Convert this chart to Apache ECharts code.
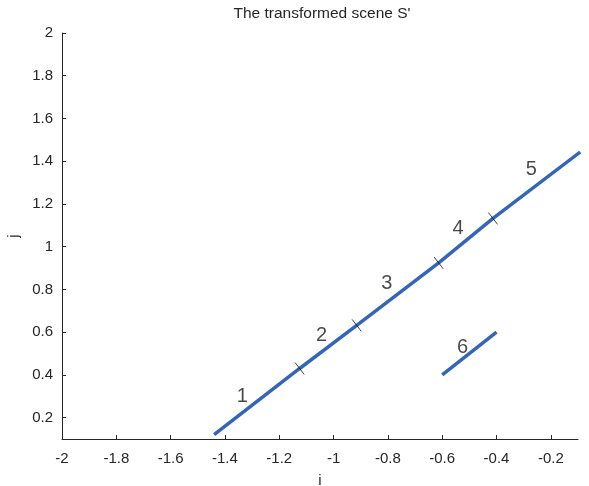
<!DOCTYPE html>
<html>
<head>
<meta charset="utf-8">
<script src="https://cdn.jsdelivr.net/npm/echarts@6/dist/echarts.min.js"></script>
<style>
  html, body { margin: 0; padding: 0; background: #fff; }
  #chart { width: 589px; height: 486px; }
</style>
</head>
<body>
<div id="chart"></div>
<script>
// Axis ranges and tick labels
const iRange = [-2, -0.1];
const jRange = [0.1, 2];
const iTicks = [-2, -1.8, -1.6, -1.4, -1.2, -1, -0.8, -0.6, -0.4, -0.2];
const jTicks = [0.2, 0.4, 0.6, 0.8, 1, 1.2, 1.4, 1.6, 1.8, 2];

// Main path (segments 1-5) through its break points
const pathI = [-1.44, -1.125, -0.915, -0.613, -0.413, -0.092];
const pathJ = [0.121, 0.43, 0.632, 0.924, 1.132, 1.443];

// Separate segment 6
const seg6I = [-0.6, -0.4];
const seg6J = [0.4, 0.6];

// Segment numbers and where they sit
const segNames = ['1', '2', '3', '4', '5', '6'];
const segLabelI = [-1.336, -1.044, -0.804, -0.542, -0.272, -0.525];
const segLabelJ = [0.307, 0.593, 0.835, 1.094, 1.370, 0.539];

const FONT = "'Liberation Sans', Arial, Helvetica, sans-serif";
const INK = '#262626';
const BLUE = '#3466b5';

const zip = (a, b) => a.map((v, k) => [v, b[k]]);
// interior break points get a small cross mark
const breakPts = zip(pathI, pathJ).slice(1, -1);

const chart = echarts.init(document.getElementById('chart'), null, { renderer: 'canvas' });

chart.setOption({
  animation: false,
  backgroundColor: '#fff',
  textStyle: { fontFamily: FONT },
  grid: { left: 62, right: 11, top: 33, bottom: 47, containLabel: false, outerBoundsMode: 'none' },
  graphic: [{
    type: 'text',
    x: 322, y: 14,
    style: {
      text: "The transformed scene S'",
      fill: INK,
      font: '15.5px ' + FONT,
      align: 'center',
      verticalAlign: 'middle'
    }
  }],
  xAxis: {
    type: 'value',
    min: iRange[0], max: iRange[1],
    name: 'i',
    nameLocation: 'middle',
    nameGap: 34,
    nameTextStyle: { color: INK, fontSize: 15, fontFamily: FONT },
    splitLine: { show: false },
    axisLine: { show: true, onZero: false, lineStyle: { color: INK, width: 1 } },
    axisTick: { show: true, inside: true, length: 4, customValues: iTicks, lineStyle: { color: INK } },
    axisLabel: { customValues: iTicks, color: INK, fontSize: 15, fontFamily: FONT, margin: 12,
                 formatter: v => String(v) }
  },
  yAxis: {
    type: 'value',
    min: jRange[0], max: jRange[1],
    name: 'j',
    nameLocation: 'middle',
    nameGap: 40,
    nameTextStyle: { color: INK, fontSize: 15, fontFamily: FONT },
    splitLine: { show: false },
    axisLine: { show: true, onZero: false, lineStyle: { color: INK, width: 1 } },
    axisTick: { show: true, inside: true, length: 4, customValues: jTicks, lineStyle: { color: INK } },
    axisLabel: { customValues: jTicks, color: INK, fontSize: 15, fontFamily: FONT, margin: 9,
                 formatter: v => String(v) }
  },
  series: [
    {
      type: 'line',
      data: zip(pathI, pathJ),
      symbol: 'none',
      clip: false,
      lineStyle: { color: BLUE, width: 3.5, cap: 'butt' },
      z: 2
    },
    {
      type: 'line',
      data: zip(seg6I, seg6J),
      symbol: 'none',
      clip: false,
      lineStyle: { color: BLUE, width: 3.5, cap: 'butt' },
      z: 2
    },
    {
      // short marks across the path, perpendicular in screen space
      type: 'custom',
      data: breakPts,
      z: 3,
      renderItem: function (params, api) {
        const p = api.coord([api.value(0), api.value(1)]);
        const a = api.coord([pathI[0], pathJ[0]]);
        const b = api.coord([pathI[pathI.length - 1], pathJ[pathJ.length - 1]]);
        let dx = b[0] - a[0], dy = b[1] - a[1];
        const len = Math.hypot(dx, dy);
        dx /= len; dy /= len;
        const half = 7.5;
        const px = -dy * half, py = dx * half;
        return {
          type: 'line',
          shape: { x1: p[0] - px, y1: p[1] - py, x2: p[0] + px, y2: p[1] + py },
          style: { stroke: '#111', lineWidth: 0.8 }
        };
      }
    },
    {
      type: 'scatter',
      data: segLabelI.map((v, k) => [v, segLabelJ[k], segNames[k]]),
      symbolSize: 0,
      z: 4,
      label: {
        show: true,
        position: 'inside',
        offset: [0, 2],
        formatter: p => p.value[2],
        color: '#1a1a1a',
        fontSize: 20,
        fontFamily: FONT
      }
    }
  ]
});
</script>
</body>
</html>
